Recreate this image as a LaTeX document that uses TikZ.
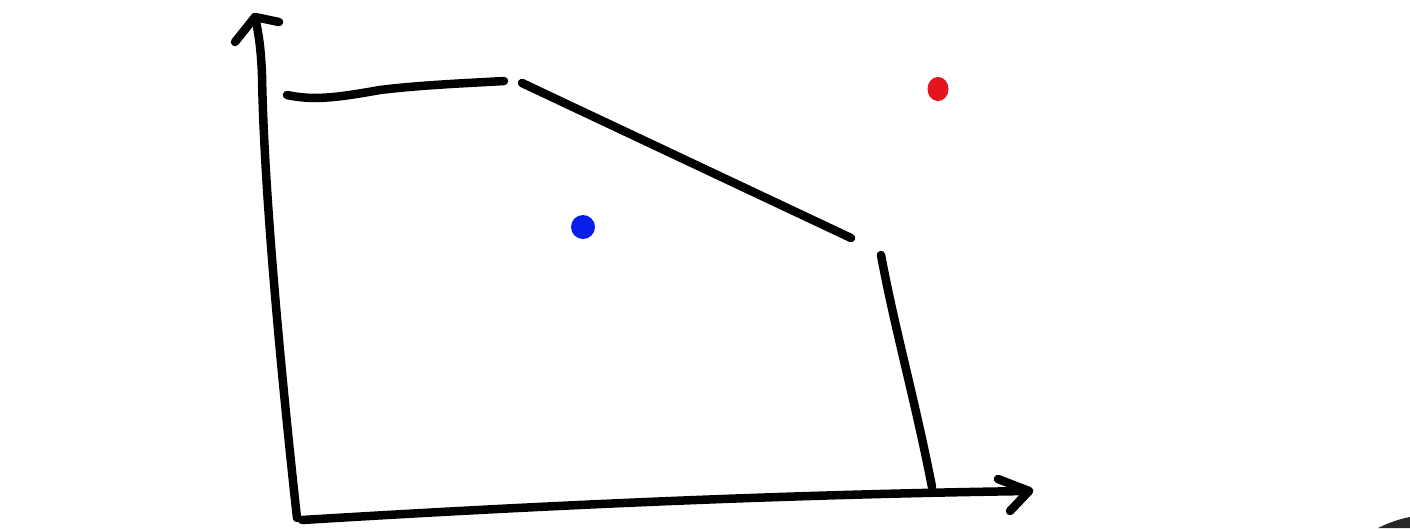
\documentclass[tikz,border=0pt]{standalone}
\usetikzlibrary{calc}
\begin{document}
\begin{tikzpicture}[x=1pt,y=-1pt,
  ink/.style={line width=8.5pt,line cap=round,line join=round,black},
  dot/.style={circle,inner sep=0pt,minimum size=#1}]
\useasboundingbox[fill=white] (0,0) rectangle (1410,528);
% y axis
\draw[ink] (297,518) .. controls (284,400) and (264,200) .. (262,75)
  .. controls (261,50) and (259,35) .. (255,17);
\draw[ink] (235,42) -- (255,17) -- (279,22);
% x axis
\draw[ink] (302,520) .. controls (500,508) and (750,495) .. (1029,491);
\draw[ink] (998,479) -- (1029,491) -- (1010,511);
% frontier
\draw[ink] (287,95) .. controls (315,101) and (340,97) .. (380,90) .. controls (420,85) and (470,83) .. (504,81);
\draw[ink] (522,83) -- (851,238);
\draw[ink] (881,255) .. controls (895,330) and (915,400) .. (932,487);
% dots
\node[dot=24pt,fill={rgb,255:red,10;green,30;blue,235}] (blue) at (583,227) {};
\node[dot=21pt,fill={rgb,255:red,230;green,20;blue,30},yscale=1.15] (red) at (938,89) {};
% corner fragment
\fill[black!85] (1378,528) .. controls (1390,522) and (1400,519) .. (1410,517) -- (1410,528) -- cycle;
\end{tikzpicture}
\end{document}
